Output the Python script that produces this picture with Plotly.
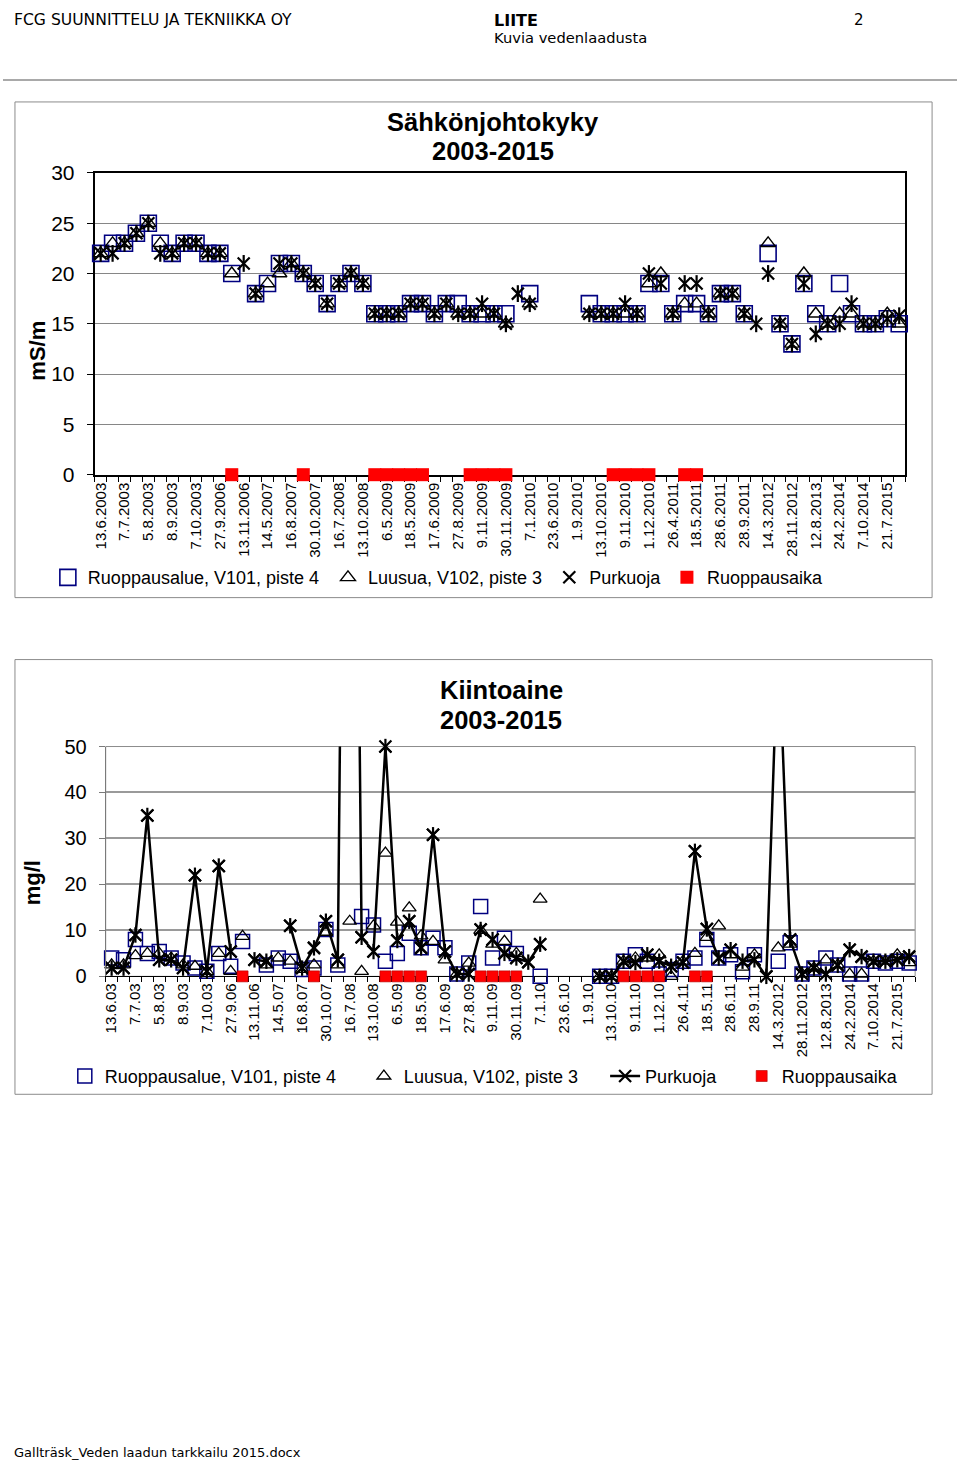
import plotly.graph_objects as go

W, H = 960, 1470
FONT = "Liberation Sans, Arial, sans-serif"
HFONT = "DejaVu Sans, Verdana, sans-serif"

# ---------------- data ----------------
sample_index = list(range(68))

tick_labels_top = ["13.6.2003", "7.7.2003", "5.8.2003", "8.9.2003", "7.10.2003", "27.9.2006",
                   "13.11.2006", "14.5.2007", "16.8.2007", "30.10.2007", "16.7.2008", "13.10.2008",
                   "6.5.2009", "18.5.2009", "17.6.2009", "27.8.2009", "9.11.2009", "30.11.2009",
                   "7.1.2010", "23.6.2010", "1.9.2010", "13.10.2010", "9.11.2010", "1.12.2010",
                   "26.4.2011", "18.5.2011", "28.6.2011", "28.9.2011", "14.3.2012", "28.11.2012",
                   "12.8.2013", "24.2.2014", "7.10.2014", "21.7.2015"]
tick_labels_bottom = ["13.6.03", "7.7.03", "5.8.03", "8.9.03", "7.10.03", "27.9.06", "13.11.06",
                      "14.5.07", "16.8.07", "30.10.07", "16.7.08", "13.10.08", "6.5.09", "18.5.09",
                      "17.6.09", "27.8.09", "9.11.09", "30.11.09", "7.1.10", "23.6.10", "1.9.10",
                      "13.10.10", "9.11.10", "1.12.10", "26.4.11", "18.5.11", "28.6.11", "28.9.11",
                      "14.3.2012", "28.11.2012", "12.8.2013", "24.2.2014", "7.10.2014", "21.7.2015"]

# Sähkönjohtokyky (mS/m)
cond_v101 = [22, 23, 23, 24, 25, 23, 22, 23, 23, 22, 22, 20, None, 18, 19, 21, 21, 20, 19, 17,
             19, 20, 19, 16, 16, 16, 17, 17, 16, 17, 17, 16, 16, 16, 16, None, 18, None, None, None,
             None, 17, 16, 16, 16, 16, 19, 19, 16, 17, 17, 16, 18, 18, 16, None, 22, 15, 13, 19,
             16, 15, 19, 16, 15, 15, 15.5, 15]
cond_v102 = [22, 23, 23, 24, 25, 23, 22, 23, 23, 22, 22, 20, None, 18, 19, 20, 21, 20, 19, 17,
             19, 20, 19, 16, 16, 16, 17, 17, 16, 17, 16, 16, 16, 16, 15, None, 17, None, None, None,
             None, 16, 16, 16, 16, 16, 19, 20, 16, 17, 17, 16, 18, 18, 16, None, 23, 15, 13, 20,
             16, 15, 16, 16, 15, 15, 16, 15]
cond_purkuoja = [22, 22, 23, 24, 25, 22, 22, 23, 23, 22, 22, None, 21, 18, None, 21, 21, 20, 19, 17,
                 19, 20, 19, 16, 16, 16, 17, 17, 16, 17, 16, 16, 17, 16, 15, 18, 17, None, None, None,
                 None, 16, 16, 16, 17, 16, 20, 19, 16, 19, 19, 16, 18, 18, 16, 15, 20, 15, 13, 19,
                 14, 15, 15, 17, 15, 15, 15.5, 15.8]
cond_ruoppaus = [None, None, None, None, None, None, None, None, None, None, None, 0, None, None, None, None,
                 None, 0, None, None, None, None, None, 0, 0, 0, 0, 0, None, None, None, 0, 0, 0, 0,
                 None, None, None, None, None, None, None, None, 0, 0, 0, 0, None, None, 0, 0, None,
                 None, None, None, None, None, None, None, None, None, None, None, None, None, None, None, None]

# Kiintoaine (mg/l)
ss_v101 = [4, 3.6, 8, 5, 5.4, 4, 2.9, 1.8, 1.1, 5, 2.2, 7.6, None, 2.5, 4, 3.3, 1.5, 1.8, 10.2, 2.5,
           None, 13, 11.2, 3.3, 5, 9.4, 6.2, 8.3, 6.2, 0.5, 2.9, 15.2, 4, 8.3, 5, None, 0, None, None, None,
           None, 0, 0, 3.3, 4.7, 3.3, 0.5, 1.5, 3.3, 4, 8, 4, 4.7, 1, 4.7, None, 3.3, 7.3, 0.5, 1.8,
           4, 2.5, 0.5, 0.5, 3.3, 2.9, 3.3, 2.9]
ss_v102 = [2.5, 2.5, 4.5, 5, 5, 4, 2.5, 2.2, 1.1, 5, 1.1, 8.7, None, 2.5, 4, 3.3, 1.5, 2.5, 9.6, 2.5,
           12, 1.1, 11, 26.8, 11.8, 14.9, 8.8, 7.6, 3.6, 0.5, 2.9, 10, 7, 7.6, 5, None, 16.8, None, None, None,
           None, 0, 0, 3.3, 4, 4, 4.7, 0, 3.3, 5, 8.5, 11, 4.7, 2, 4.7, None, 6.2, 7, 0.5, 1.8,
           3.6, 2.5, 0.5, 0.5, 3.3, 3.3, 4.7, 3]
ss_purkuoja = [1.8, 1.8, 9, 35, 3.6, 3.6, 1.8, 22, 1.1, 24, 5.4, None, 3.6, 3.3, None, 11, 1.8, 6.2, 12, 3.6,
               270, 8.5, 5.4, 50, 7.8, 12, 6.2, 30.8, 5.4, 0.5, 0.5, 10.2, 8, 5, 4, 3.1, 7, None, None, None,
               None, 0, 0, 3.3, 3, 4.7, 3.3, 2.2, 3, 27.2, 10.3, 4, 5.8, 3.3, 3.6, 0, 75, 8, 0.5, 1.8,
               0.5, 2.4, 5.8, 4.3, 3.3, 3.3, 3.6, 4.3]
ss_ruoppaus = [None, None, None, None, None, None, None, None, None, None, None, 0, None, None, None, None,
               None, 0, None, None, None, None, None, 0, 0, 0, 0, None, None, None, None, 0, 0, 0, 0,
               None, None, None, None, None, None, None, None, 0, 0, 0, 0, None, None, 0, 0, None,
               None, None, None, None, None, None, None, None, None, None, None, None, None, None, None, None]

series_names = ["Ruoppausalue, V101, piste 4", "Luusua, V102, piste 3", "Purkuoja", "Ruoppausaika"]

# ---------------- helpers ----------------
# the photographed page is vertically compressed slightly (about 0.985) with ~11 px at the top,
# so target page positions are converted into figure positions here.
Y_SCALE, Y_OFF = 0.985, 11.0


def fx(px):
    return px / W


def fy(py):
    yf = (py - Y_OFF) / Y_SCALE
    return 1 - yf / H


NAVY = "#000080"
RED = "#FF0000"

fig = go.Figure()

# ---------------- top chart ----------------
fig.add_trace(go.Scatter(x=sample_index, y=cond_v101, mode="markers", name=series_names[0],
                         xaxis="x", yaxis="y", legend="legend", cliponaxis=False,
                         marker=dict(symbol="square-open", size=16, color=NAVY, line=dict(width=1.6, color=NAVY))))
fig.add_trace(go.Scatter(x=sample_index, y=cond_v102, mode="markers", name=series_names[1],
                         xaxis="x", yaxis="y", legend="legend2", cliponaxis=False,
                         marker=dict(symbol="triangle-up-open", size=13, color="black", line=dict(width=1.4, color="black"))))
fig.add_trace(go.Scatter(x=sample_index, y=cond_purkuoja, mode="markers", name=series_names[2],
                         xaxis="x", yaxis="y", legend="legend3", cliponaxis=False,
                         marker=dict(symbol="x-thin-open", size=12, color="black", line=dict(width=2.2, color="black"))))
fig.add_trace(go.Scatter(x=sample_index, y=cond_purkuoja, mode="markers", name=series_names[2],
                         xaxis="x", yaxis="y", showlegend=False, cliponaxis=False, hoverinfo="skip",
                         marker=dict(symbol="line-ns-open", size=12, color="black", line=dict(width=2.2, color="black"))))
fig.add_trace(go.Scatter(x=sample_index, y=cond_ruoppaus, mode="markers", name=series_names[3],
                         xaxis="x", yaxis="y", legend="legend4", cliponaxis=False,
                         marker=dict(symbol="square", size=13, color=RED, line=dict(width=0))))

# ---------------- bottom chart ----------------
ss_purkuoja_in_range = [v if (v is not None and v <= 50) else None for v in ss_purkuoja]

fig.add_trace(go.Scatter(x=sample_index, y=ss_v101, mode="markers", name=series_names[0],
                         xaxis="x2", yaxis="y2", legend="legend5", cliponaxis=False,
                         marker=dict(symbol="square-open", size=14, color=NAVY, line=dict(width=1.5, color=NAVY))))
fig.add_trace(go.Scatter(x=sample_index, y=ss_v102, mode="markers", name=series_names[1],
                         xaxis="x2", yaxis="y2", legend="legend6", cliponaxis=False,
                         marker=dict(symbol="triangle-up-open", size=12, color="black", line=dict(width=1.3, color="black"))))
fig.add_trace(go.Scatter(x=sample_index, y=ss_purkuoja, mode="lines+markers", name=series_names[2],
                         xaxis="x2", yaxis="y2", legend="legend7", cliponaxis=True, connectgaps=False,
                         line=dict(color="black", width=2.5),
                         marker=dict(symbol="x-thin-open", size=12, color="black", line=dict(width=2.2, color="black"))))
fig.add_trace(go.Scatter(x=sample_index, y=ss_purkuoja_in_range, mode="markers", name=series_names[2],
                         xaxis="x2", yaxis="y2", showlegend=False, cliponaxis=False, hoverinfo="skip",
                         marker=dict(symbol="x-thin-open", size=12, color="black", line=dict(width=2.2, color="black"))))
fig.add_trace(go.Scatter(x=sample_index, y=ss_purkuoja_in_range, mode="markers", name=series_names[2],
                         xaxis="x2", yaxis="y2", showlegend=False, cliponaxis=False, hoverinfo="skip",
                         marker=dict(symbol="line-ns-open", size=11, color="black", line=dict(width=2.2, color="black"))))
fig.add_trace(go.Scatter(x=sample_index, y=ss_ruoppaus, mode="markers", name=series_names[3],
                         xaxis="x2", yaxis="y2", legend="legend8", cliponaxis=False,
                         marker=dict(symbol="square", size=11, color=RED, line=dict(width=0.6, color="#B00000"))))

boundaries = [i - 0.5 for i in range(69)]

common_x = dict(range=[-0.5, 67.5], tickmode="array", tickvals=sample_index[::2], tickangle=-90,
                showgrid=False, zeroline=False, ticks="", layer="below traces",
                tickfont=dict(family=FONT, size=15, color="black"),
                minor=dict(tickmode="array", tickvals=boundaries, ticks="outside", ticklen=5,
                           tickcolor="black", tickwidth=1, showgrid=False))


def legend_at(text_left_px, center_py):
    return dict(orientation="h", x=fx(text_left_px - 41), y=fy(center_py), xanchor="left", yanchor="middle",
                bgcolor="rgba(0,0,0,0)", borderwidth=0, font=dict(family=FONT, size=18, color="black"))


fig.update_layout(
    width=W, height=H, margin=dict(l=0, r=0, t=0, b=0),
    paper_bgcolor="white", plot_bgcolor="white",
    font=dict(family=FONT, color="black"),
    xaxis=dict(common_x, domain=[fx(92), fx(905)], anchor="y", ticktext=tick_labels_top,
               showline=True, mirror=True, linecolor="black", linewidth=2),
    yaxis=dict(domain=[fy(474), fy(172)], anchor="x", range=[0, 30], dtick=5,
               showgrid=True, gridcolor="#868686", gridwidth=1, zeroline=False,
               showline=True, mirror=True, linecolor="black", linewidth=2, layer="below traces",
               ticks="outside", ticklen=6, tickcolor="black", ticklabelstandoff=8,
               tickfont=dict(family=FONT, size=21, color="black")),
    xaxis2=dict(common_x, domain=[fx(103), fx(915)], anchor="y2", ticktext=tick_labels_bottom,
                showline=True, linecolor="black", linewidth=1),
    yaxis2=dict(domain=[fy(976), fy(746)], anchor="x2", range=[0, 50], dtick=10,
                showgrid=True, gridcolor="#9a9a9a", gridwidth=2, zeroline=False,
                showline=True, linecolor="#7a7a7a", linewidth=1,
                ticks="outside", ticklen=6, tickcolor="#7a7a7a", ticklabelstandoff=8,
                tickfont=dict(family=FONT, size=20, color="black")),
    legend=legend_at(86, 577),
    legend2=legend_at(367, 577),
    legend3=legend_at(589, 577),
    legend4=legend_at(707, 577),
    legend5=legend_at(103, 1076),
    legend6=legend_at(403, 1076),
    legend7=legend_at(645, 1076),
    legend8=legend_at(782, 1076),
    showlegend=True,
)

shapes = [
    dict(type="line", xref="paper", yref="paper", x0=fx(0), x1=fx(957), y0=fy(79), y1=fy(79),
         line=dict(color="#8c8c8c", width=1.5)),
    dict(type="rect", xref="paper", yref="paper", x0=fx(12), x1=fx(932), y0=fy(597), y1=fy(101),
         line=dict(color="#8c8c8c", width=1)),
    dict(type="rect", xref="paper", yref="paper", x0=fx(12), x1=fx(932), y0=fy(1094), y1=fy(659),
         line=dict(color="#8c8c8c", width=1)),
    dict(type="rect", xref="x2 domain", yref="y2 domain", x0=0, x1=1, y0=0, y1=1,
         line=dict(color="#8c8c8c", width=1), layer="below"),
]
fig.update_layout(shapes=shapes)

ann = [
    dict(text="FCG SUUNNITTELU JA TEKNIIKKA OY", x=fx(9), y=1, yanchor="top", yshift=3, xanchor="left",
         font=dict(family=HFONT, size=15.6)),
    dict(text="<b>LIITE</b>", x=fx(491), y=1, yanchor="top", yshift=3, xanchor="left",
         font=dict(family=HFONT, size=16)),
    dict(text="2", x=fx(852), y=1, yanchor="top", yshift=3, xanchor="left", font=dict(family=HFONT, size=15)),
    dict(text="Kuvia vedenlaadusta", x=fx(491), y=fy(37), xanchor="left", font=dict(family=HFONT, size=14.7)),
    dict(text="Gallträsk_Veden laadun tarkkailu 2015.docx", x=fx(9), y=0, yanchor="bottom", yshift=-3,
         xanchor="left", font=dict(family=HFONT, size=13)),
    dict(text="<b>Sähkönjohtokyky</b>", x=fx(492), y=fy(121), xanchor="center", font=dict(family=FONT, size=25.5)),
    dict(text="<b>2003-2015</b>", x=fx(492), y=fy(150), xanchor="center", font=dict(family=FONT, size=25.5)),
    dict(text="<b>Kiintoaine</b>", x=fx(500), y=fy(689), xanchor="center", font=dict(family=FONT, size=25.5)),
    dict(text="<b>2003-2015</b>", x=fx(500), y=fy(719), xanchor="center", font=dict(family=FONT, size=25.5)),
    dict(text="<b>mS/m</b>", x=fx(35), y=fy(350), xanchor="center", textangle=-90, font=dict(family=FONT, size=22)),
    dict(text="<b>mg/l</b>", x=fx(30), y=fy(882), xanchor="center", textangle=-90, font=dict(family=FONT, size=22)),
]
for a in ann:
    a.setdefault("yanchor", "middle")
    a.update(xref="paper", yref="paper", showarrow=False)
    a["font"]["color"] = "black"
fig.update_layout(annotations=ann)

fig.write_html(
    "out.html",
    config={"displayModeBar": False},
    post_script=(
        "document.documentElement.style.margin='0px';"
        "document.documentElement.style.padding='0px';"
        "document.documentElement.style.overflow='hidden';"
        "document.body.style.margin='0px';"
        "document.body.style.padding='0px';"
        "document.body.style.overflow='hidden';"
        "var gd=document.getElementById('{plot_id}');"
        "gd.style.position='absolute';gd.style.left='0px';gd.style.top='0px';"
    ),
)
